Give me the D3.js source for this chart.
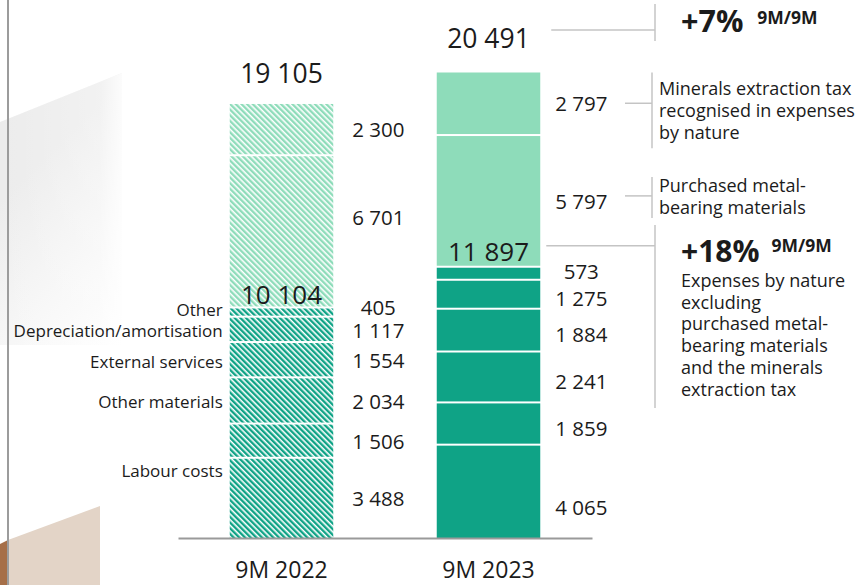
<!DOCTYPE html>
<html>
<head>
<meta charset="utf-8">
<script src="https://cdn.jsdelivr.net/npm/d3@7"></script>
<style>
  html, body { margin: 0; padding: 0; background: #fff; }
  svg { display: block; font-family: "Open Sans", "Noto Sans", sans-serif; }
</style>
</head>
<body>
<svg id="chart" width="864" height="585"></svg>
<script>
// ---------- data ----------
const periods = ["9M 2022", "9M 2023"];
const componentLabels = ["Labour costs", "", "Other materials", "External services", "Depreciation/amortisation", "Other"];
const values2022 = [3488, 1506, 2034, 1554, 1117, 405, 6701, 2300];
const values2023 = [4065, 1859, 2241, 1884, 1275, 573, 5797, 2797];
const subtotals = [10104, 11897];
const totals = [19105, 20491];
const totalGrowth = "+7%";
const coreGrowth = "+18%";
const growthPeriod = "9M/9M";
const metNote = ["Minerals extraction tax", "recognised in expenses", "by nature"];
const purchasedNote = ["Purchased metal-", "bearing materials"];
const coreNote = ["Expenses by nature", "excluding", "purchased metal-", "bearing materials", "and the minerals", "extraction tax"];

// ---------- setup ----------
const svg = d3.select("#chart");
const W = 864, H = 585;
const dark = "#0fa386", light = "#8edcba", ink = "#1b1b1b", leader = "#c4c4c4";
const fmt = d3.formatLocale({ decimal: ".", thousands: " ", grouping: [3], currency: ["", ""] }).format(",d");

const x = d3.scaleBand().domain(periods).range([178, 592]).paddingInner(0.5).paddingOuter(0.25);
const y = d3.scaleLinear().domain([0, 20491]).range([538, 72.5]);

const defs = svg.append("defs");
function hatch(id, color) {
  const p = defs.append("pattern").attr("id", id).attr("patternUnits", "userSpaceOnUse")
    .attr("width", 4).attr("height", 10).attr("patternTransform", "rotate(-45)");
  p.append("rect").attr("width", 4).attr("height", 10).attr("fill", "#fff");
  p.append("rect").attr("width", 2.4).attr("height", 10).attr("fill", color);
}
hatch("hatchDark", dark);
hatch("hatchLight", light);
const g1 = defs.append("linearGradient").attr("id", "bgGray").attr("gradientUnits", "userSpaceOnUse")
  .attr("x1", 0).attr("y1", 200).attr("x2", 140).attr("y2", 340);
g1.append("stop").attr("offset", 0).attr("stop-color", "#ececec");
g1.append("stop").attr("offset", 0.55).attr("stop-color", "#f7f7f7");
g1.append("stop").attr("offset", 1).attr("stop-color", "#ffffff");
const g2 = defs.append("linearGradient").attr("id", "bgGray2").attr("gradientUnits", "userSpaceOnUse")
  .attr("x1", 0).attr("y1", 100).attr("x2", 125).attr("y2", 100);
g2.append("stop").attr("offset", 0).attr("stop-color", "#ffffff").attr("stop-opacity", 0);
g2.append("stop").attr("offset", 0.8).attr("stop-color", "#ffffff").attr("stop-opacity", 0.3);
g2.append("stop").attr("offset", 1).attr("stop-color", "#ffffff").attr("stop-opacity", 0.9);

// ---------- background decoration ----------
svg.append("polygon").attr("points", "0,122 122,73 122,345 0,345").attr("fill", "url(#bgGray)");
svg.append("polygon").attr("points", "0,122 122,73 122,345 0,345").attr("fill", "url(#bgGray2)");
svg.append("polygon").attr("points", "8,540 100,506 100,585 8,585").attr("fill", "#e3d4c7");
svg.append("polygon").attr("points", "0,544 8,540 8,585 0,585").attr("fill", "#a66f48");
svg.append("line").attr("x1", 8).attr("x2", 8).attr("y1", 0).attr("y2", H).attr("stroke", "#9c9c9c").attr("stroke-width", 2);

// ---------- bars ----------
function stack(vals) {
  let acc = 0;
  return vals.map((v, i) => { const s = { i, v, y0: acc, y1: acc + v }; acc += v; return s; });
}
const series = [values2022, values2023].map(stack);

series.forEach((segs, b) => {
  const period = periods[b];
  const gx = x(period), bw = x.bandwidth();
  const fillFor = s => b === 0 ? (s.i < 6 ? "url(#hatchDark)" : "url(#hatchLight)") : (s.i < 6 ? dark : light);
  svg.append("g").selectAll("rect").data(segs).join("rect")
    .attr("x", gx).attr("width", bw)
    .attr("y", s => y(s.y1))
    .attr("height", s => y(s.y0) - y(s.y1) - (s.i > 0 ? 2 : 0))
    .attr("fill", fillFor);

  // value labels
  const lx = b === 0 ? gx + bw + 45 : gx + bw + 41;
  svg.append("g").selectAll("text").data(segs).join("text")
    .attr("x", lx)
    .attr("y", s => {
      let c = (y(s.y0) + y(s.y1)) / 2;
      if (b === 0 && s.i === 6) c = (y(s.y1) + y(s.y0) - 30) / 2;
      if (b === 0 && s.i === 5) c = y(s.y1) - 1;
      if (b === 1 && s.i < 6) c += 4;
      if (b === 1 && s.i === 0) c += 12;
      if (b === 1 && s.i === 5) c -= 6;
      return c;
    })
    .attr("dy", "0.35em").attr("text-anchor", "middle")
    .attr("font-size", 20.5).attr("fill", ink)
    .text(s => fmt(s.v));

  // subtotal label
  svg.append("text").attr("x", gx + bw / 2).attr("y", y(subtotals[b]) - (b === 0 ? 4 : 7))
    .attr("text-anchor", "middle").attr("font-size", 26).attr("fill", ink).text(fmt(subtotals[b]));
  // total label
  svg.append("text").attr("x", gx + bw / 2).attr("y", y(totals[b]) - (b === 0 ? 21 : 25))
    .attr("text-anchor", "middle").attr("font-size", 26.5).attr("fill", ink).text(fmt(totals[b]));
});

// left category labels (2022 bar)
const segs22 = series[0];
svg.append("g").selectAll("text").data(segs22.slice(0, 6)).join("text")
  .attr("x", x(periods[0]) - 7)
  .attr("y", s => s.i === 0 ? y(s.y1) + 12 : (s.i === 5 ? y(s.y1) + 2 : (y(s.y0) + y(s.y1)) / 2 + 1))
  .attr("dy", "0.35em").attr("text-anchor", "end")
  .attr("font-size", 17).attr("fill", ink)
  .text(s => componentLabels[s.i]);

// ---------- x axis ----------
const axis = svg.append("g").attr("transform", `translate(0,${y(0)})`)
  .call(d3.axisBottom(x).tickSize(0).tickPadding(23.5).tickSizeOuter(0));
axis.select(".domain").attr("stroke", "#9a9a9a").attr("stroke-width", 2);
axis.selectAll("text").attr("font-size", 23).attr("fill", ink).attr("font-family", "'Open Sans', sans-serif");

// ---------- annotations ----------
function line(x1, y1, x2, y2) {
  svg.append("line").attr("x1", x1).attr("y1", y1).attr("x2", x2).attr("y2", y2)
    .attr("stroke", leader).attr("stroke-width", 1.5);
}
const s23 = series[1];
const bx2 = x(periods[1]) + x.bandwidth();

// total growth
line(bx2 + 11, 30, 655, 30);
line(655, 4, 655, 41);
const tg = svg.append("text").attr("x", 681).attr("y", 32).attr("font-weight", 700).attr("fill", ink);
tg.append("tspan").attr("font-size", 30.5).text(totalGrowth);
tg.append("tspan").attr("font-size", 17.5).attr("dx", 14).attr("dy", -8).text(growthPeriod);

// MET
const metY = (y(s23[7].y0) + y(s23[7].y1)) / 2;
line(625, metY - 1, 652, metY - 1);
line(652, y(s23[7].y1), 652, metY + 44);
svg.append("g").selectAll("text").data(metNote).join("text")
  .attr("x", 659).attr("y", (d, i) => 95 + i * 22).attr("font-size", 18).attr("fill", ink).text(d => d);

// purchased
const pY = (y(s23[6].y0) + y(s23[6].y1)) / 2 - 6;
line(625, pY, 652, pY);
line(652, pY - 19, 652, pY + 22);
svg.append("g").selectAll("text").data(purchasedNote).join("text")
  .attr("x", 659).attr("y", (d, i) => 192 + i * 22).attr("font-size", 18).attr("fill", ink).text(d => d);

// core growth
const subY = y(subtotals[1]) - 22;
line(bx2 + 6, subY, 655, subY);
line(655, 225, 655, 408);
const cg = svg.append("text").attr("x", 681).attr("y", 262).attr("font-weight", 700).attr("fill", ink);
cg.append("tspan").attr("font-size", 30).text(coreGrowth);
cg.append("tspan").attr("font-size", 17.5).attr("dx", 12).attr("dy", -10).text(growthPeriod);
svg.append("g").selectAll("text").data(coreNote).join("text")
  .attr("x", 681).attr("y", (d, i) => 287 + i * 21.7).attr("font-size", 18).attr("fill", ink).text(d => d);
</script>
</body>
</html>
